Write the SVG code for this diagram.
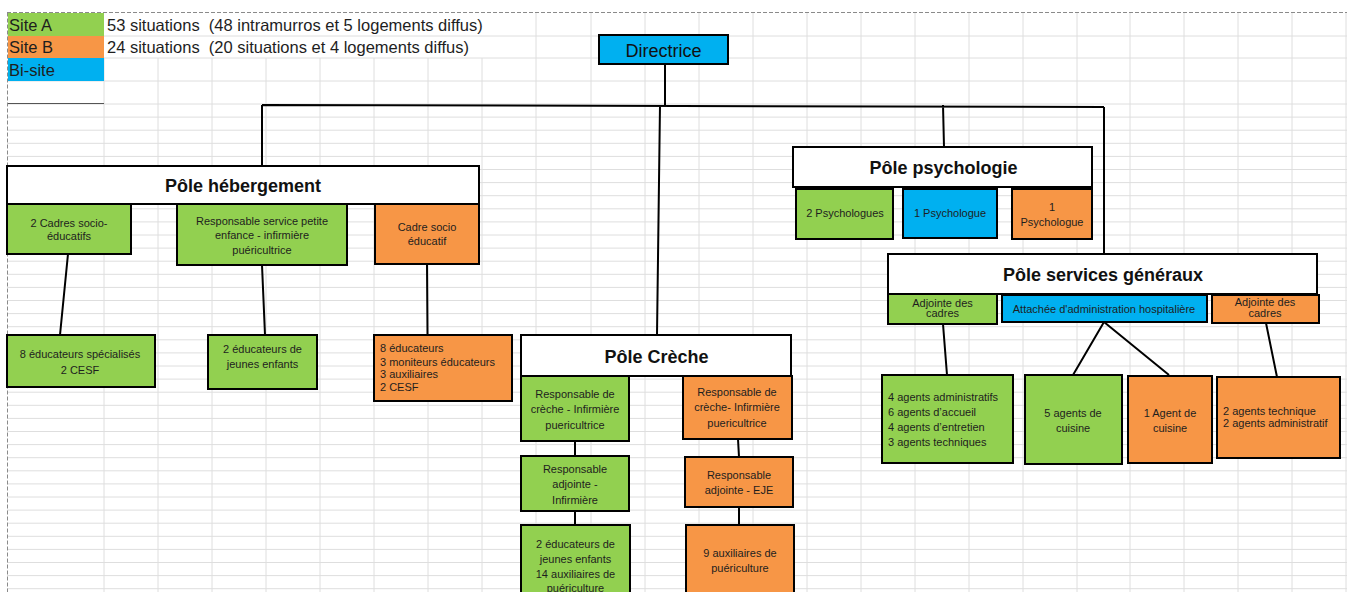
<svg xmlns="http://www.w3.org/2000/svg" width="1347" height="592" viewBox="0 0 1347 592">
<defs>
<style>
.grid{stroke:#dedede;stroke-width:1;fill:none}
.dash{stroke:#8a8a8a;stroke-width:1;stroke-dasharray:4 2;fill:none}
.box{stroke:#000;stroke-width:2}
.pole{fill:#fff;stroke:#000;stroke-width:2}
.a{fill:#92d050}
.b{fill:#f79646}
.bi{fill:#00b0f0}
.con{stroke:#000;stroke-width:2;fill:none}
.t{font-family:"Liberation Sans",Arial,sans-serif;font-size:11px;fill:#1e1e1e;text-anchor:middle}
.tl{font-family:"Liberation Sans",Arial,sans-serif;font-size:11px;fill:#1e1e1e}
.h{font-family:"Liberation Sans",Arial,sans-serif;font-size:18px;font-weight:bold;fill:#111;text-anchor:middle}
.leg{font-family:"Liberation Sans",Arial,sans-serif;font-size:16.5px;fill:#1e1e1e;white-space:pre}
</style>
</defs>
<rect x="0" y="0" width="1347" height="592" fill="#fff"/>
<g id="grid">
<path class="grid" d="M7 36H1347M7 58H1347M7 81H1347M7 104H1347"/>
<path class="grid" d="M7 117.1H1347M7 130.2H1347M7 143.3H1347M7 156.4H1347M7 169.5H1347M7 182.6H1347M7 195.7H1347M7 208.8H1347M7 221.9H1347M7 235H1347M7 248.1H1347M7 261.2H1347M7 274.3H1347M7 287.4H1347M7 300.5H1347M7 313.6H1347M7 326.7H1347M7 339.8H1347M7 352.9H1347M7 366H1347M7 379.1H1347M7 392.2H1347M7 405.3H1347M7 418.4H1347M7 431.5H1347M7 444.6H1347M7 457.7H1347M7 470.8H1347M7 483.9H1347M7 497H1347M7 510.1H1347M7 523.2H1347M7 536.3H1347M7 549.4H1347M7 562.5H1347M7 575.6H1347M7 588.7H1347"/>
<path class="grid" d="M104 58V592M158 58V592M212 58V592M266 58V592M320 58V592M374 58V592M428 58V592M482 58V592"/>
<path class="grid" d="M536 13V592M591 13V592M645 13V592M699 13V592M753 13V592M807 13V592M861 13V592M915 13V592M969 13V592M1023 13V592M1077 13V592M1130 13V592M1184 13V592M1238 13V592M1292 13V592M1346 13V592"/>
<path class="dash" d="M7 12.5H1347M7.5 12.5V592"/>
</g>
<g id="legend">
<rect x="8" y="13" width="96" height="23" class="a"/>
<rect x="8" y="36" width="96" height="22" class="b"/>
<rect x="8" y="58" width="96" height="23" class="bi"/>
<path d="M8 103.5H104" stroke="#555" stroke-width="1"/>
<text class="leg" x="9" y="31">Site A</text>
<text class="leg" x="9" y="53">Site B</text>
<text class="leg" x="9" y="76">Bi-site</text>
<text class="leg" x="107" y="31">53 situations  (48 intramurros et 5 logements diffus)</text>
<text class="leg" x="107" y="53">24 situations  (20 situations et 4 logements diffus)</text>
</g>
<g id="connectors">
<path class="con" d="M665 64V105M262 105L1104 107M262 105V166M660 105L657 335M943 105L944 147M1104 107V254"/>
<path class="con" d="M68 254L60 335M262 265L265 335M427 264L427.5 335"/>
<path class="con" d="M575 441V456M738 439L739 457M575 511V525M739 507V525"/>
<path class="con" d="M943 324L947 375M1104 322L1073 375M1104 322L1169 375M1266 323L1277 377"/>
</g>
<g id="directrice">
<rect x="599" y="35" width="129" height="29" class="box bi"/>
<text class="h" style="font-weight:normal" x="663.5" y="57">Directrice</text>
</g>
<g id="pole-hebergement">
<rect x="7" y="166" width="472" height="38" class="pole"/>
<text class="h" x="243" y="191.5">Pôle hébergement</text>
</g>
<g id="cadres-socio-educatifs">
<rect x="7" y="204" width="124" height="50" class="box a"/>
<text class="t" x="69" y="226.5">2 Cadres socio-</text>
<text class="t" x="69" y="240">éducatifs</text>
</g>
<g id="responsable-petite-enfance">
<rect x="177" y="204" width="170" height="61" class="box a"/>
<text class="t" x="262" y="224.5">Responsable service petite</text>
<text class="t" x="262" y="238.5">enfance - infirmière</text>
<text class="t" x="262" y="254">puéricultrice</text>
</g>
<g id="cadre-socio-educatif-b">
<rect x="375" y="204" width="104" height="60" class="box b"/>
<text class="t" x="427" y="230.5">Cadre socio</text>
<text class="t" x="427" y="245">éducatif</text>
</g>
<g id="educateurs-specialises">
<rect x="7" y="335" width="148" height="52" class="box a"/>
<text class="t" x="80" y="358">8 éducateurs spécialisés</text>
<text class="t" x="80" y="374">2 CESF</text>
</g>
<g id="educateurs-jeunes-enfants">
<rect x="208" y="335" width="109" height="54" class="box a"/>
<text class="t" x="262.5" y="353">2 éducateurs de</text>
<text class="t" x="262.5" y="368">jeunes enfants</text>
</g>
<g id="equipe-hebergement-b">
<rect x="374" y="335" width="138" height="66" class="box b"/>
<text class="tl" x="380" y="352">8 éducateurs</text>
<text class="tl" x="380" y="365.7">3 moniteurs éducateurs</text>
<text class="tl" x="380" y="378.3">3 auxiliaires</text>
<text class="tl" x="380" y="391.3">2 CESF</text>
</g>
<g id="pole-creche">
<rect x="521" y="335" width="270" height="41" class="pole"/>
<text class="h" x="656.5" y="363">Pôle Crèche</text>
</g>
<g id="responsable-creche-a">
<rect x="521" y="376" width="108" height="65" class="box a"/>
<text class="t" x="575" y="398">Responsable  de</text>
<text class="t" x="575" y="413">crèche - Infirmière</text>
<text class="t" x="575" y="429">puericultrice</text>
</g>
<g id="responsable-creche-b">
<rect x="683" y="376" width="109" height="63" class="box b"/>
<text class="t" x="737" y="396">Responsable  de</text>
<text class="t" x="737" y="411">crèche- Infirmière</text>
<text class="t" x="737" y="426.7">puericultrice</text>
</g>
<g id="responsable-adjointe-a">
<rect x="521" y="456" width="108" height="55" class="box a"/>
<text class="t" x="575" y="473.3">Responsable</text>
<text class="t" x="575" y="488.3">adjointe -</text>
<text class="t" x="575" y="504">Infirmière</text>
</g>
<g id="responsable-adjointe-b">
<rect x="685" y="457" width="108" height="50" class="box b"/>
<text class="t" x="739" y="479">Responsable</text>
<text class="t" x="739" y="494">adjointe - EJE</text>
</g>
<g id="equipe-creche-a">
<rect x="521" y="525" width="109" height="80" class="box a"/>
<text class="t" x="575.5" y="548">2 éducateurs de</text>
<text class="t" x="575.5" y="563">jeunes enfants</text>
<text class="t" x="575.5" y="578">14 auxiliaires de</text>
<text class="t" x="575.5" y="592">puériculture</text>
</g>
<g id="equipe-creche-b">
<rect x="686" y="525" width="108" height="80" class="box b"/>
<text class="t" x="740" y="557">9 auxiliaires de</text>
<text class="t" x="740" y="571.7">puériculture</text>
</g>
<g id="pole-psychologie">
<rect x="793" y="147" width="299" height="40" class="pole"/>
<text class="h" x="943.5" y="174">Pôle psychologie</text>
</g>
<g id="psychologues-a">
<rect x="796" y="189" width="97" height="50" class="box a"/>
<text class="t" x="845" y="217.3">2 Psychologues</text>
</g>
<g id="psychologue-bi">
<rect x="903" y="189" width="94" height="49" class="box bi"/>
<text class="t" x="950" y="216.7">1 Psychologue</text>
</g>
<g id="psychologue-b">
<rect x="1012" y="189" width="80" height="50" class="box b"/>
<text class="t" x="1052" y="211">1</text>
<text class="t" x="1052" y="225.7">Psychologue</text>
</g>
<g id="pole-services-generaux">
<rect x="888" y="254" width="429" height="40" class="pole"/>
<text class="h" x="1103" y="280.7">Pôle services généraux</text>
</g>
<g id="adjointe-cadres-a">
<rect x="888" y="294" width="109" height="30" class="box a"/>
<text class="t" x="942.5" y="307">Adjointe des</text>
<text class="t" x="942.5" y="317">cadres</text>
</g>
<g id="attachee-administration">
<rect x="1002" y="295" width="205" height="27" class="box bi"/>
<text class="t" x="1104" y="313">Attachée d'administration hospitalière</text>
</g>
<g id="adjointe-cadres-b">
<rect x="1212" y="295" width="107" height="28" class="box b"/>
<text class="t" x="1265" y="306">Adjointe des</text>
<text class="t" x="1265" y="316.5">cadres</text>
</g>
<g id="agents-a">
<rect x="882" y="375" width="131" height="88" class="box a"/>
<text class="tl" x="888" y="400.7">4 agents administratifs</text>
<text class="tl" x="888" y="416.3">6 agents d’accueil</text>
<text class="tl" x="888" y="431.3">4 agents d’entretien</text>
<text class="tl" x="888" y="446">3 agents techniques</text>
</g>
<g id="cuisine-a">
<rect x="1025" y="375" width="97" height="89" class="box a"/>
<text class="t" x="1073" y="416.7">5 agents de</text>
<text class="t" x="1073" y="431.7">cuisine</text>
</g>
<g id="cuisine-b">
<rect x="1128" y="376" width="84" height="87" class="box b"/>
<text class="t" x="1170" y="416.7">1 Agent de</text>
<text class="t" x="1170" y="431.7">cuisine</text>
</g>
<g id="agents-b">
<rect x="1217" y="377" width="123" height="81" class="box b"/>
<text class="tl" x="1223" y="415">2 agents technique</text>
<text class="tl" x="1223" y="426.7">2 agents administratif</text>
</g>
</svg>
